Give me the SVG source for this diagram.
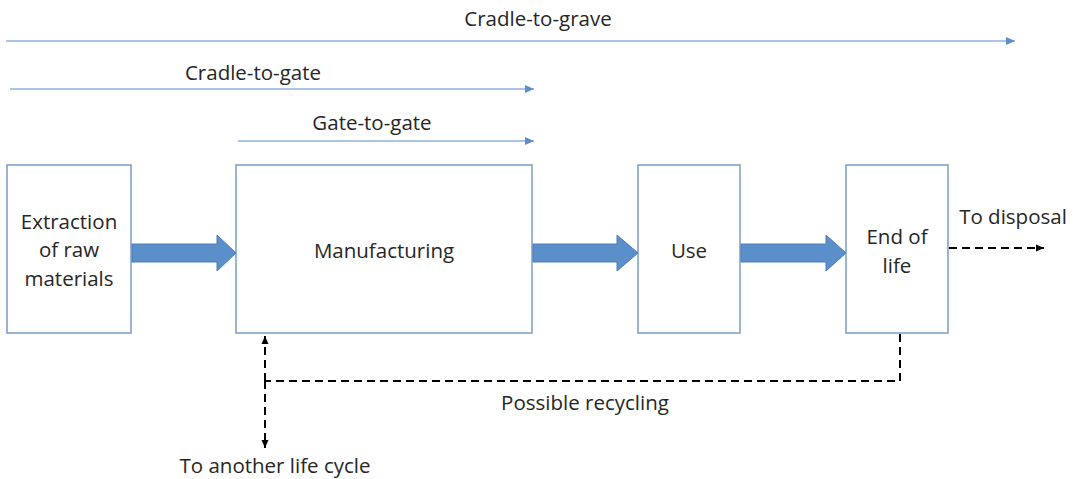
<svg xmlns="http://www.w3.org/2000/svg" width="1077" height="479" viewBox="0 0 1077 479">
  <style>
    text { font-family: "Open Sans", "Liberation Sans", sans-serif; font-size: 20.5px; fill: #262626; text-anchor: middle; }
    .box { fill: #ffffff; stroke: #7a9cc9; stroke-width: 1.5; }
    .scope { stroke: #8fb2de; stroke-width: 1.3; fill: none; }
    .flow { fill: #5b8fca; stroke: #4a7dba; stroke-width: 1; }
    .dash { stroke: #000000; stroke-width: 2; stroke-dasharray: 8 5; fill: none; }
  </style>
  <defs>
    <marker id="blueHead" markerWidth="10" markerHeight="8" refX="9" refY="4" orient="auto" markerUnits="userSpaceOnUse">
      <path d="M0,0 L9,4 L0,8 Z" fill="#5b8fca"/>
    </marker>
    <marker id="blackHead" markerWidth="9" markerHeight="8" refX="8" refY="4" orient="auto" markerUnits="userSpaceOnUse">
      <path d="M0,0.5 L8,4 L0,7.5 Z" fill="#000000"/>
    </marker>
  </defs>

  <!-- life-cycle scope bars -->
  <g id="scopes">
    <line class="scope" x1="6" y1="41" x2="1015" y2="41" marker-end="url(#blueHead)"/>
    <text x="538" y="26">Cradle-to-grave</text>
    <line class="scope" x1="10" y1="89" x2="534" y2="89" marker-end="url(#blueHead)"/>
    <text x="253" y="80">Cradle-to-gate</text>
    <line class="scope" x1="238" y1="141" x2="534" y2="141" marker-end="url(#blueHead)"/>
    <text x="372" y="130">Gate-to-gate</text>
  </g>

  <!-- stages -->
  <g id="extraction">
    <rect class="box" x="7" y="165" width="124" height="168"/>
    <text x="69" y="229">Extraction</text>
    <text x="69" y="257">of raw</text>
    <text x="69" y="286">materials</text>
  </g>
  <g id="manufacturing">
    <rect class="box" x="236" y="165" width="296" height="168"/>
    <text x="384" y="258">Manufacturing</text>
  </g>
  <g id="use">
    <rect class="box" x="638" y="165" width="102" height="168"/>
    <text x="689" y="258">Use</text>
  </g>
  <g id="end-of-life">
    <rect class="box" x="846" y="165" width="102" height="168"/>
    <text x="897" y="244">End of</text>
    <text x="897" y="273">life</text>
  </g>

  <!-- connectors -->
  <g id="connectors">
    <path class="flow" d="M132,244 H217 V235 L236,253 L217,271 V262 H132 Z"/>
    <path class="flow" d="M533,244 H617 V235 L638,253 L617,271 V262 H533 Z"/>
    <path class="flow" d="M741,244 H826 V235 L846,253 L826,271 V262 H741 Z"/>

    <line class="dash" x1="949" y1="248" x2="1044" y2="248" marker-end="url(#blackHead)"/>
    <path class="dash" d="M900,334 V381 H265"/>
    <line class="dash" x1="265" y1="381" x2="265" y2="336" marker-end="url(#blackHead)"/>
    <line class="dash" x1="265" y1="381" x2="265" y2="448" marker-end="url(#blackHead)"/>

    <text x="1013" y="224">To disposal</text>
    <text x="585" y="410">Possible recycling</text>
    <text x="275" y="473">To another life cycle</text>
  </g>
</svg>
